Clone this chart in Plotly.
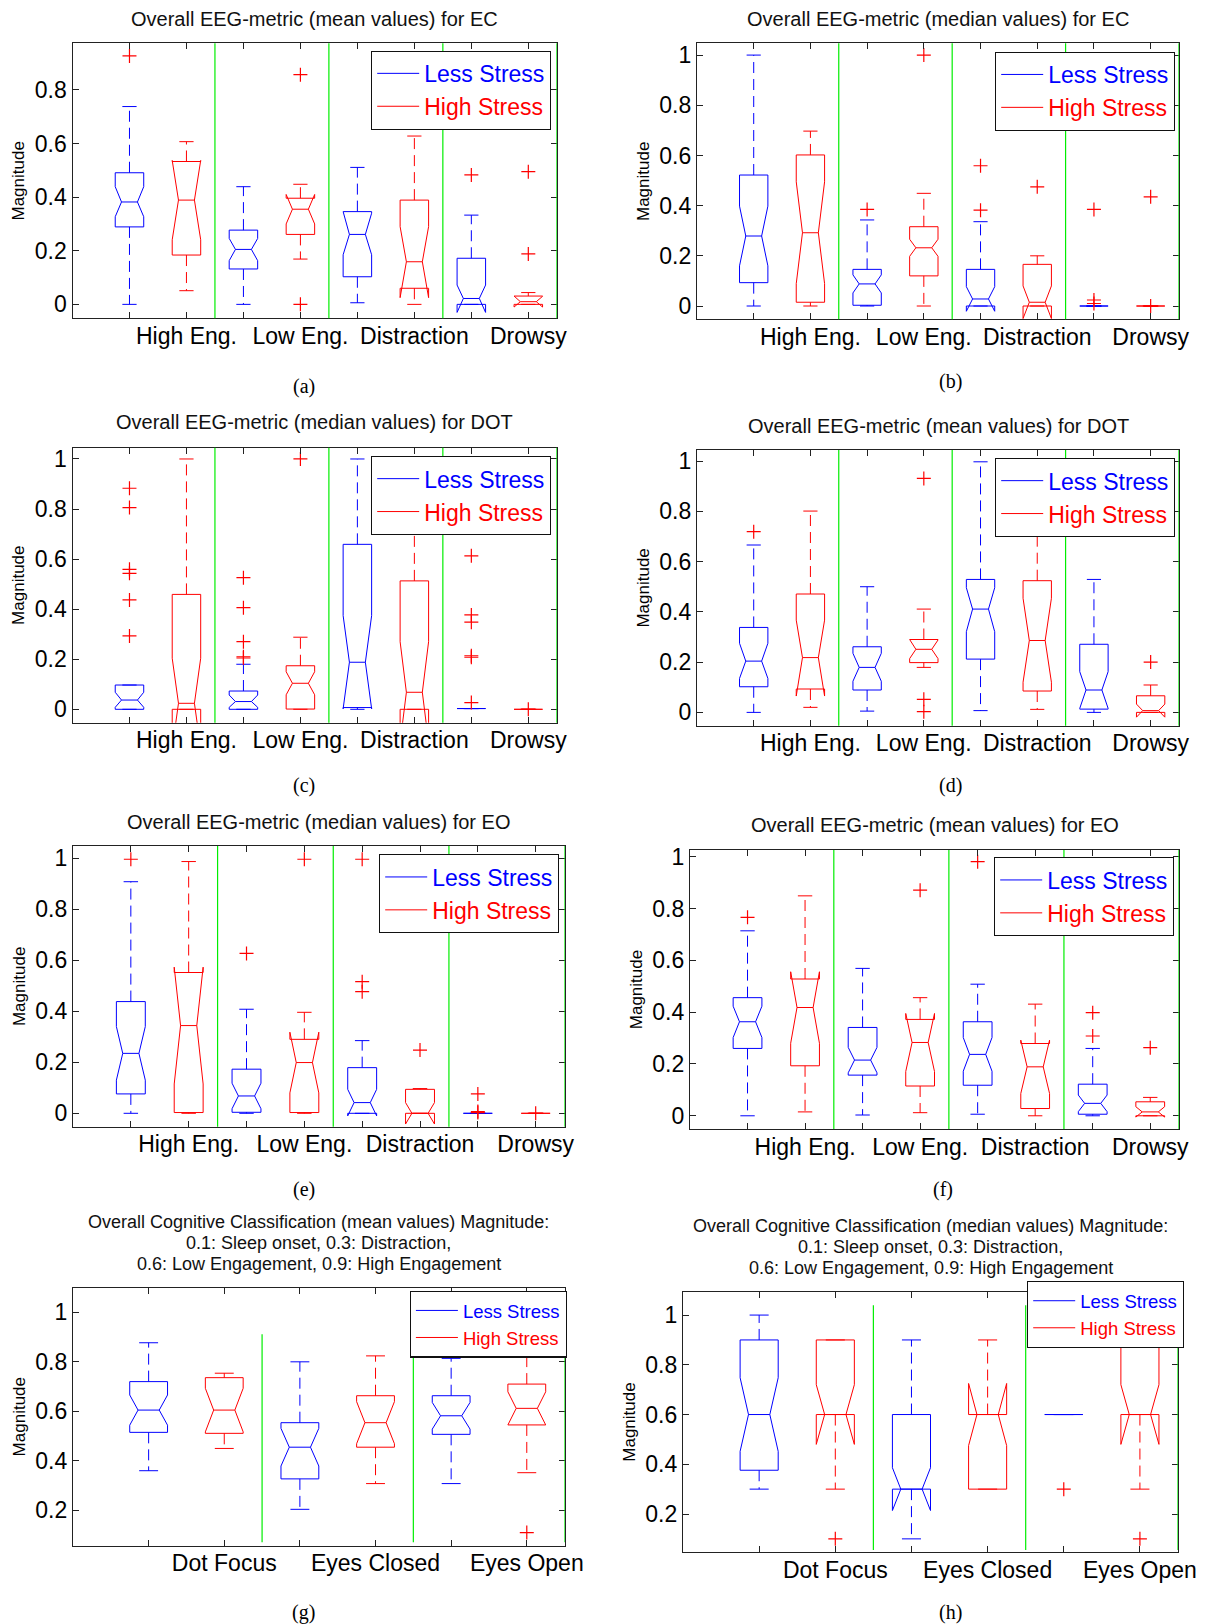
import plotly.graph_objects as go

W, H = 1205, 1624

# ---------------- data ----------------
EEG_CATS = ["High Eng.", "Low Eng.", "Distraction", "Drowsy"]
COG_CATS = ["Dot Focus", "Eyes Closed", "Eyes Open"]
GROUPS = ["Less Stress", "High Stress"]

TITLES = [
    ["Overall EEG-metric (mean values) for EC"],
    ["Overall EEG-metric (median values) for EC"],
    ["Overall EEG-metric (median values) for DOT"],
    ["Overall EEG-metric (mean values) for DOT"],
    ["Overall EEG-metric (median values) for EO"],
    ["Overall EEG-metric (mean values) for EO"],
    ["Overall Cognitive Classification (mean values) Magnitude:",
     "0.1: Sleep onset, 0.3: Distraction,",
     "0.6: Low Engagement, 0.9: High Engagement"],
    ["Overall Cognitive Classification (median values) Magnitude:",
     "0.1: Sleep onset, 0.3: Distraction,",
     "0.6: Low Engagement, 0.9: High Engagement"],
]
CAPTIONS = ["(a)", "(b)", "(c)", "(d)", "(e)", "(f)", "(g)", "(h)"]

# box order: Less/High alternating per category
# (a) mean values, EC
A_WHI = [0.738, 0.607, 0.439, 0.448, 0.511, 0.628, 0.333, 0.044]
A_Q3 = [0.491, 0.533, 0.277, 0.396, 0.346, 0.389, 0.172, 0.031]
A_MED = [0.382, 0.389, 0.205, 0.355, 0.261, 0.159, 0.022, 0.010]
A_Q1 = [0.289, 0.184, 0.132, 0.261, 0.103, 0.060, 0.000, 0.000]
A_WLO = [0.000, 0.051, 0.000, 0.169, 0.006, 0.000, 0.000, 0.000]
A_NHI = [0.439, 0.537, 0.246, 0.410, 0.340, 0.290, 0.072, 0.030]
A_NLO = [0.327, 0.241, 0.163, 0.300, 0.185, 0.025, -0.030, -0.010]
A_OUT = [[0.927], [], [], [0.857, 0.0], [], [], [0.483], [0.495, 0.188]]

# (b) median values, EC
B_WHI = [1.000, 0.697, 0.343, 0.449, 0.336, 0.200, 0.0, 0.0]
B_Q3 = [0.522, 0.602, 0.146, 0.316, 0.146, 0.166, 0.0, 0.0]
B_MED = [0.279, 0.292, 0.088, 0.232, 0.028, 0.015, 0.0, 0.0]
B_Q1 = [0.093, 0.015, 0.003, 0.120, 0.000, 0.000, 0.0, 0.0]
B_WLO = [0.0, 0.0, 0.0, 0.0, 0.0, 0.0, 0.0, 0.0]
B_NHI = [0.398, 0.495, 0.124, 0.266, 0.077, 0.080, 0.0, 0.0]
B_NLO = [0.160, 0.089, 0.052, 0.198, -0.021, -0.050, 0.0, 0.0]
B_OUT = [[], [], [0.385], [1.0], [0.559, 0.382], [0.475], [0.385, 0.024, 0.010], [0.435, 0.0]]

# (c) median values, DOT
C_WHI = [0.097, 1.000, 0.180, 0.288, 1.000, 0.950, 0.003, 0.0]
C_Q3 = [0.097, 0.459, 0.073, 0.174, 0.659, 0.513, 0.003, 0.0]
C_MED = [0.037, 0.024, 0.031, 0.104, 0.188, 0.068, 0.003, 0.0]
C_Q1 = [0.000, 0.000, 0.000, 0.001, 0.007, 0.000, 0.003, 0.0]
C_WLO = [0.0, 0.0, 0.0, 0.0, 0.0, 0.0, 0.003, 0.0]
C_NHI = [0.068, 0.204, 0.057, 0.150, 0.374, 0.270, 0.003, 0.0]
C_NLO = [0.008, -0.156, 0.008, 0.058, 0.002, -0.134, 0.003, 0.0]
C_OUT = [[0.883, 0.806, 0.559, 0.543, 0.437, 0.293], [], [0.526, 0.406, 0.270, 0.210, 0.205], [1.0],
         [], [], [0.613, 0.377, 0.348, 0.214, 0.208, 0.027], [0.0]]

# (d) mean values, DOT
D_WHI = [0.666, 0.801, 0.500, 0.411, 0.997, 0.950, 0.529, 0.109]
D_Q3 = [0.338, 0.471, 0.261, 0.290, 0.529, 0.524, 0.271, 0.066]
D_MED = [0.204, 0.218, 0.179, 0.251, 0.411, 0.286, 0.089, 0.007]
D_Q1 = [0.102, 0.093, 0.089, 0.198, 0.212, 0.085, 0.013, 0.000]
D_WLO = [0.000, 0.020, 0.005, 0.179, 0.007, 0.012, 0.000, 0.000]
D_NHI = [0.275, 0.367, 0.235, 0.288, 0.496, 0.454, 0.162, 0.033]
D_NLO = [0.135, 0.065, 0.124, 0.214, 0.321, 0.120, 0.016, -0.019]
D_OUT = [[0.719], [], [], [0.931, 0.052, 0.003], [], [], [], [0.200]]

# (e) median values, EO
E_WHI = [0.908, 0.987, 0.408, 0.396, 0.285, 0.097, 0.0, 0.0]
E_Q3 = [0.438, 0.552, 0.173, 0.290, 0.179, 0.094, 0.0, 0.0]
E_MED = [0.235, 0.344, 0.068, 0.199, 0.042, 0.000, 0.0, 0.0]
E_Q1 = [0.076, 0.003, 0.004, 0.003, 0.000, 0.000, 0.0, 0.0]
E_WLO = [0.0, 0.0, 0.0, 0.0, 0.0, 0.0, 0.0, 0.0]
E_NHI = [0.340, 0.573, 0.118, 0.318, 0.094, 0.042, 0.0, 0.0]
E_NLO = [0.130, 0.115, 0.018, 0.080, -0.010, -0.042, 0.0, 0.0]
E_OUT = [[0.996], [], [0.627], [0.996], [0.996, 0.516, 0.477], [0.248], [0.076, 0.007, 0.003], [0.0]]

# (f) mean values, EO
F_WHI = [0.714, 0.849, 0.569, 0.456, 0.508, 0.431, 0.260, 0.071]
F_Q3 = [0.456, 0.528, 0.341, 0.372, 0.363, 0.279, 0.122, 0.054]
F_MED = [0.363, 0.418, 0.215, 0.283, 0.237, 0.189, 0.048, 0.015]
F_Q1 = [0.260, 0.193, 0.157, 0.115, 0.118, 0.028, 0.006, 0.000]
F_WLO = [0.000, 0.015, 0.003, 0.012, 0.006, 0.000, 0.000, 0.000]
F_NHI = [0.423, 0.556, 0.264, 0.395, 0.302, 0.292, 0.080, 0.035]
F_NLO = [0.302, 0.280, 0.166, 0.171, 0.172, 0.086, 0.016, -0.005]
F_OUT = [[0.766], [], [], [0.871], [0.981], [], [0.398, 0.308], [0.263]]

# (g) cognitive classification, mean values
G_WHI = [0.877, 0.754, 0.800, 0.824, 0.814, 0.838]
G_Q3 = [0.720, 0.736, 0.554, 0.663, 0.663, 0.710]
G_MED = [0.605, 0.605, 0.455, 0.554, 0.582, 0.612]
G_Q1 = [0.515, 0.511, 0.327, 0.455, 0.507, 0.545]
G_WLO = [0.360, 0.450, 0.204, 0.308, 0.308, 0.352]
G_NHI = [0.666, 0.693, 0.531, 0.639, 0.636, 0.679]
G_NLO = [0.544, 0.517, 0.379, 0.469, 0.528, 0.545]
G_OUT = [[], [], [], [], [], [0.110]]
G_SEP_Y = [0.071, 0.911]

# (h) cognitive classification, median values
H_WHI = [1.0, 0.9, 0.9, 0.9, 0.6, 0.9]
H_Q3 = [0.9, 0.9, 0.6, 0.6, 0.6, 0.9]
H_MED = [0.6, 0.6, 0.3, 0.6, 0.6, 0.6]
H_Q1 = [0.376, 0.6, 0.3, 0.3, 0.6, 0.6]
H_WLO = [0.3, 0.3, 0.1, 0.3, 0.6, 0.3]
H_NHI = [0.748, 0.72, 0.386, 0.725, 0.6, 0.72]
H_NLO = [0.452, 0.48, 0.214, 0.475, 0.6, 0.48]
H_OUT = [[], [0.1], [], [], [0.9, 0.3], [0.1]]
H_SEP_Y = [0.055, 1.04]

Y_RANGES = [[-0.052, 0.974], [-0.053, 1.047], [-0.0535, 1.045], [-0.053, 1.044],
            [-0.0525, 1.048], [-0.051, 1.026], [0.057, 1.0995], [0.046, 1.094]]
Y_TICKS_EEG = [0, 0.2, 0.4, 0.6, 0.8, 1]
Y_TICKS_COG = [0.2, 0.4, 0.6, 0.8, 1]

# ---------------- layout (pixels) ----------------
# axes box: x0, x1, y0(top), y1(bottom)
BOXES = [
    (72.5, 556.8, 43.3, 318.3),
    (697, 1179, 43.3, 319.3),
    (72.5, 556.8, 447.7, 722.7),
    (697, 1179, 450, 725.7),
    (73, 564.6, 846, 1126.7),
    (690, 1179, 850, 1129),
    (73, 564.6, 1287.7, 1545.7),
    (683, 1178, 1291.7, 1552.3),
]
TITLE_Y = [19, 19, 422, 425.7, 822, 825, 1222, 1226]
TITLE_LINE_GAP = 21
CAP_POS = [(303.6, 386.5), (950, 381.5), (303.6, 785), (950, 785),
           (303.6, 1189), (943, 1189), (303.6, 1612), (950, 1612)]
# legend: right, top, font size
LEGENDS = [(551, 50.7, 23), (1175, 51.8, 23), (551, 456, 23), (1175, 458, 23),
           (559, 854.3, 23), (1174, 857.3, 23), (566.7, 1290.7, 18.5), (1184, 1281, 18.5)]

BLUE, RED, GREEN = "#0000ff", "#ff0000", "#00ee00"
GROUP_COLORS = [BLUE, RED]
FONT = "Liberation Sans, Arial, Helvetica, sans-serif"
SERIF = "Liberation Serif, Times New Roman, serif"
HW = 0.25   # box half width
NI = 0.11   # notch indent
CW = 0.125  # whisker cap half width

panels = [
    (A_WHI, A_Q3, A_MED, A_Q1, A_WLO, A_NHI, A_NLO, A_OUT, EEG_CATS, None),
    (B_WHI, B_Q3, B_MED, B_Q1, B_WLO, B_NHI, B_NLO, B_OUT, EEG_CATS, None),
    (C_WHI, C_Q3, C_MED, C_Q1, C_WLO, C_NHI, C_NLO, C_OUT, EEG_CATS, None),
    (D_WHI, D_Q3, D_MED, D_Q1, D_WLO, D_NHI, D_NLO, D_OUT, EEG_CATS, None),
    (E_WHI, E_Q3, E_MED, E_Q1, E_WLO, E_NHI, E_NLO, E_OUT, EEG_CATS, None),
    (F_WHI, F_Q3, F_MED, F_Q1, F_WLO, F_NHI, F_NLO, F_OUT, EEG_CATS, None),
    (G_WHI, G_Q3, G_MED, G_Q1, G_WLO, G_NHI, G_NLO, G_OUT, COG_CATS, G_SEP_Y),
    (H_WHI, H_Q3, H_MED, H_Q1, H_WLO, H_NHI, H_NLO, H_OUT, COG_CATS, H_SEP_Y),
]

fig = go.Figure()
layout = {}
shapes = []
annotations = []

for k, (whi, q3, med, q1, wlo, nhi, nlo, outs, cats, sep_y) in enumerate(panels):
    suf = "" if k == 0 else str(k + 1)
    xa, ya, leg = "x" + suf, "y" + suf, "legend" + suf
    n = len(med)
    pos = list(range(1, n + 1))
    for g in range(2):
        col = GROUP_COLORS[g]
        bx, by, wx, wy = [], [], [], []
        for i in range(g, n, 2):
            c = pos[i]
            l, r = c - HW, c + HW
            bx += [l, l, l + NI, l, l, r, r, r - NI, r, r, l, None]
            by += [q1[i], nlo[i], med[i], nhi[i], q3[i], q3[i], nhi[i], med[i], nlo[i], q1[i], q1[i], None]
            bx += [l + NI, r - NI, None]
            by += [med[i], med[i], None]
            bx += [c - CW, c + CW, None, c - CW, c + CW, None]
            by += [whi[i], whi[i], None, wlo[i], wlo[i], None]
            wx += [c, c, None, c, c, None]
            wy += [q3[i], whi[i], None, q1[i], wlo[i], None]
        fig.add_trace(go.Scatter(
            x=wx, y=wy, mode="lines", xaxis=xa, yaxis=ya,
            line=dict(color=col, width=1, dash="11px,6px"),
            showlegend=False, hoverinfo="skip"))
        fig.add_trace(go.Scatter(
            x=bx, y=by, mode="lines", xaxis=xa, yaxis=ya,
            line=dict(color=col, width=1),
            name='<span style="color:%s">%s</span>' % (col, GROUPS[g]),
            legend=leg, showlegend=True, hoverinfo="skip"))
    ox, oy = [], []
    for i in range(n):
        for v in outs[i]:
            ox.append(pos[i])
            oy.append(v)
    fig.add_trace(go.Scatter(
        x=ox, y=oy, mode="markers", xaxis=xa, yaxis=ya,
        marker=dict(symbol="cross-thin", size=10, line=dict(color=RED, width=1.2)),
        showlegend=False, hoverinfo="skip", cliponaxis=False))

    x0, x1, y0, y1 = BOXES[k]
    ticktext = []
    for cname in cats:
        ticktext += ["", cname]
    yt = Y_TICKS_COG if sep_y is not None else [t for t in Y_TICKS_EEG if t <= Y_RANGES[k][1]]
    axis_common = dict(
        showline=True, linecolor="#222", linewidth=1.2, mirror="ticks",
        ticks="inside", ticklen=6, tickcolor="#222", tickwidth=1,
        showgrid=False, zeroline=False, automargin=False,
        tickfont=dict(family=FONT, size=23, color="#000"),
    )
    layout["xaxis" + suf] = dict(
        axis_common, domain=[x0 / W, x1 / W], range=[0, n + 0.5], anchor=ya,
        tickmode="array", tickvals=pos, ticktext=ticktext, ticklabelstandoff=-3)
    layout["yaxis" + suf] = dict(
        axis_common, domain=[1 - y1 / H, 1 - y0 / H], range=Y_RANGES[k], anchor=xa,
        tickmode="array", tickvals=yt, ticktext=["%g" % t for t in yt],
        title=dict(text="Magnitude", font=dict(family=FONT, size=17, color="#000"), standoff=5))

    # separators between categories
    for j in range(len(cats)):
        xs = 2 * (j + 1) + 0.5
        if sep_y is None:
            shapes.append(dict(type="line", xref=xa, yref=ya + " domain", x0=xs, x1=xs, y0=0, y1=1,
                               line=dict(color=GREEN, width=1.2)))
        else:
            shapes.append(dict(type="line", xref=xa, yref=ya, x0=xs, x1=xs, y0=sep_y[0], y1=sep_y[1],
                               line=dict(color=GREEN, width=1.2)))

    rx, ty, fs = LEGENDS[k]
    layout[leg] = dict(
        x=rx / W, y=1 - ty / H, xanchor="right", yanchor="top",
        bgcolor="white", bordercolor="#111", borderwidth=1.2,
        font=dict(family=FONT, size=fs, color="#000"),
        itemwidth=42, tracegroupgap=0, traceorder="normal")

    title_size = 18 if sep_y is not None else 20
    for li, line_text in enumerate(TITLES[k]):
        annotations.append(dict(
            text=line_text, xref="paper", yref="paper", x=(x0 + x1) / 2 / W,
            y=1 - (TITLE_Y[k] + li * TITLE_LINE_GAP) / H,
            xanchor="center", yanchor="middle", showarrow=False, align="center",
            font=dict(family=FONT, size=title_size, color="#111")))
    cx, cy = CAP_POS[k]
    annotations.append(dict(
        text=CAPTIONS[k], xref="paper", yref="paper", x=cx / W, y=1 - cy / H,
        xanchor="center", yanchor="middle", showarrow=False,
        font=dict(family=SERIF, size=20, color="#000")))

fig.update_layout(
    width=W, height=H, autosize=False,
    margin=dict(l=0, r=0, t=0, b=0, autoexpand=False),
    paper_bgcolor="white", plot_bgcolor="white",
    shapes=shapes, annotations=annotations,
    **layout)

fig.write_html(
    "out.html",
    config={"displayModeBar": False},
    post_script="document.documentElement.style.margin='0px';document.body.style.margin='0px';document.body.style.overflow='hidden';",
)
